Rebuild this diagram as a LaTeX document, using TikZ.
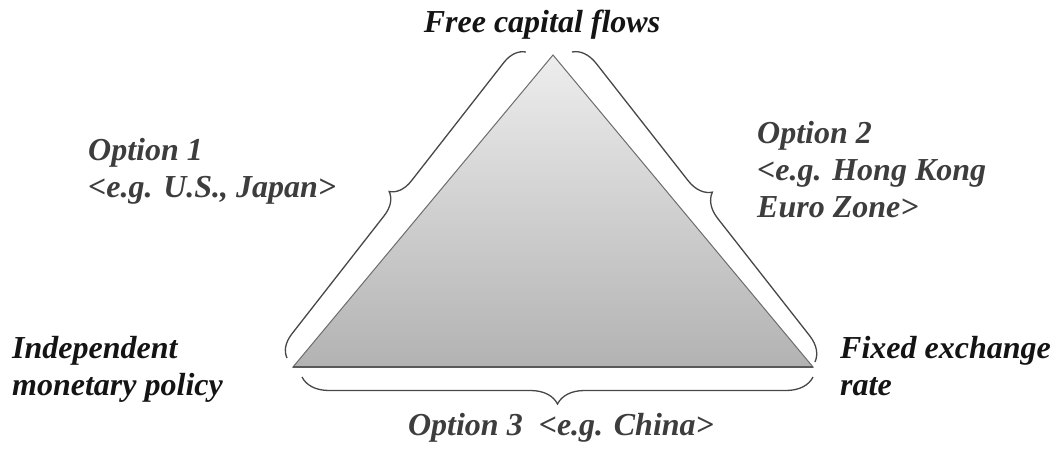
\documentclass[tikz,border=0pt]{standalone}
\usepackage{fontspec}
\setmainfont{Liberation Serif}
\usepackage{tikz}
\usetikzlibrary{decorations.pathreplacing,calc}

\begin{document}
\begin{tikzpicture}[x=1pt,y=-1pt,
  every node/.style={font=\fontsize{32}{37}\selectfont\bfseries\itshape,inner sep=0pt,align=left},
  corner/.style={text=black!92},
  opt/.style={text=black!76},
  brc/.style={draw=black!72,line width=1.3pt,decorate,decoration={brace,amplitude=#1}}]
 \useasboundingbox (0,0) rectangle (1062,452);
 % triangle
 \coordinate (top) at (553,55);
 \coordinate (bl) at (293,367);
 \coordinate (br) at (813,367);
 \shadedraw[top color=gray!14,bottom color=gray!60,draw=gray!85!black,line width=1pt] (top)--(bl)--(br)--cycle;
 \draw[gray!70!black,line width=1.2pt] (bl)--(br);
 % corners
 \node[corner,anchor=base] (fcf) at (542,33) {Free capital flows};
 \node[corner,anchor=base west] (imp) at (12,395) {Independent\\monetary policy};
 \node[corner,anchor=base west] (fer) at (840,395) {Fixed exchange\\rate};
 % options
 \node[opt,anchor=base west] (op1) at (88,197) {Option 1\\<e.g. U.S., Japan>};
 \node[opt,anchor=base west] (op2) at (757,217) {Option 2\\<e.g. Hong Kong\\Euro Zone>};
 \node[opt,anchor=base] (op3) at (561,435) {Option 3~~<e.g. China>};
 % braces
 \coordinate (b1s) at (287,358);
 \coordinate (b1e) at (526,52);
 \coordinate (b2s) at (572,52);
 \coordinate (b2e) at (815,362);
 \coordinate (b3s) at (813,377);
 \coordinate (b3e) at (302,377);
 \draw[brc=22] (b1s)--(b1e);
 \draw[brc=24] (b2s)--(b2e);
 \draw[brc=27] (b3s)--(b3e);
\end{tikzpicture}
\end{document}
